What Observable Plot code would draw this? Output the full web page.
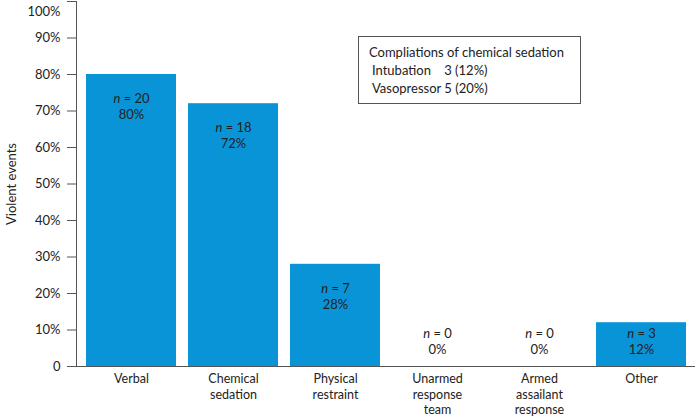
<!DOCTYPE html>
<html><head><meta charset="utf-8">
<script src="https://cdn.jsdelivr.net/npm/d3@7"></script>
<script src="https://cdn.jsdelivr.net/npm/@observablehq/plot@0.6"></script>
<style>
body{margin:0;background:#fff;font-family:Lato,"Open Sans",sans-serif;}
#wrap{position:relative;width:696px;height:420px;}
#box{position:absolute;left:358px;top:36px;width:223px;height:68px;border:1px solid #555;box-sizing:border-box;background:#fff;font-size:13px;color:#222;padding:6px 0 0 10px;line-height:18px;}
#box .row{padding-left:3px;white-space:pre;}
</style></head>
<body><div id="wrap"></div>
<script>
const categories = ["Verbal","Chemical\nsedation","Physical\nrestraint","Unarmed\nresponse\nteam","Armed\nassailant\nresponse","Other"];
const counts = [20, 18, 7, 0, 0, 3];
const percents = [80, 72, 28, 0, 0, 12];
const yTicks = [0, 10, 20, 30, 40, 50, 60, 70, 80, 90, 100];
const boxTitle = "Compliations of chemical sedation";
const boxRows = ["Intubation    3 (12%)", "Vasopressor 5 (20%)"];

const data = categories.map((c, i) => ({cat: c, n: counts[i], pct: percents[i]}));
const labelY = d => Math.max(d.pct - 6.7, 9);

const plot = Plot.plot({
  width: 696, height: 420,
  marginLeft: 76, marginRight: 1, marginTop: 1, marginBottom: 54,
  style: {fontFamily: "Lato, 'Open Sans', sans-serif", fontSize: "13px", color: "#222", background: "#fff"},
  x: {domain: categories, paddingInner: 0.12, paddingOuter: 0.08},
  y: {domain: [0, 100]},
  marks: [
    Plot.barY(data, {x: "cat", y: "pct", fill: "#0a94d8"}),
    Plot.ruleY([0], {stroke: "#555", strokeWidth: 1.2}),
    Plot.frame({anchor: "left", stroke: "#555"}),
    Plot.axisY({ticks: yTicks, tickSize: 9, tickPadding: 7, stroke: "#555",
      tickFormat: d => d === 0 ? "0" : d + "%", className: "yax",
      label: "Violent events", labelAnchor: "center", labelArrow: "none", labelOffset: 70, fontSize: 13}),
    Plot.axisX({tickSize: 0, tickPadding: 6, label: null, lineHeight: 1.22, fontSize: 12.5}),
    Plot.text(data, {x: "cat", y: labelY, text: d => "n = " + d.n, className: "nlab", fill: "#222", fontSize: 13}),
    Plot.text(data, {x: "cat", y: labelY, dy: 16, text: d => d.pct + "%", fill: "#222", fontSize: 13})
  ]
});

// italic "n" in the count labels
d3.select(plot).selectAll(".nlab text").each(function() {
  const t = this.textContent;
  const rest = t.slice(1);
  const sel = d3.select(this);
  sel.text(null);
  sel.append("tspan").attr("font-style", "italic").text("n");
  sel.append("tspan").text(rest);
});
// keep the top tick label inside the picture
d3.select(plot).selectAll("text").filter(function() { return this.textContent === "100%"; })
  .attr("dy", "0.8em");

const wrap = document.getElementById("wrap");
wrap.appendChild(plot);
const box = document.createElement("div");
box.id = "box";
const title = document.createElement("div");
title.textContent = boxTitle;
box.appendChild(title);
boxRows.forEach(r => { const d = document.createElement("div"); d.className = "row"; d.textContent = r; box.appendChild(d); });
wrap.appendChild(box);
</script>
</body></html>
